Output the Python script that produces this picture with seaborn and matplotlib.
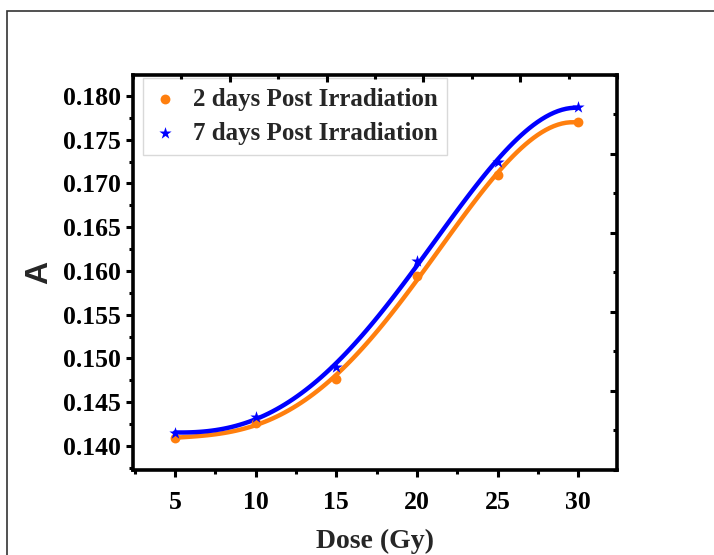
import numpy as np
import pandas as pd
import seaborn as sb
import matplotlib.pyplot as plt
from matplotlib.patches import Rectangle
from matplotlib.ticker import MultipleLocator

# data
dose = [5, 10, 15, 20, 25, 30]
a_2days = [0.1409, 0.1426, 0.1477, 0.1594, 0.1710, 0.1770]
a_7days = [0.1415, 0.1433, 0.1490, 0.1611, 0.1725, 0.1787]
labels = ['2 days Post Irradiation', '7 days Post Irradiation']
y_ticks = [0.140, 0.145, 0.150, 0.155, 0.160, 0.165, 0.170, 0.175, 0.180]

ORANGE = '#ff7f0e'
BLUE = '#0000ff'


def chart():
    df = pd.DataFrame({'dose': dose, 'd2': a_2days, 'd7': a_7days})

    sb.set_theme(style='ticks')
    plt.rcParams['font.family'] = ['Liberation Serif', 'DejaVu Serif']
    plt.rcParams['font.weight'] = 'bold'

    fig = plt.figure(figsize=(7.14, 5.55), dpi=100)
    ax = fig.add_axes([0.1863, 0.1532, 0.6779, 0.7117])

    # fitted curves
    sb.regplot(data=df, x='dose', y='d2', order=4, ci=None, scatter=False,
               line_kws={'color': ORANGE, 'lw': 3.2, 'zorder': 2}, ax=ax)
    sb.regplot(data=df, x='dose', y='d7', order=4, ci=None, scatter=False,
               line_kws={'color': BLUE, 'lw': 3.2, 'zorder': 3}, ax=ax)

    # points
    sb.scatterplot(data=df, x='dose', y='d2', marker='o', color=ORANGE, s=50,
                   edgecolor=ORANGE, linewidth=0, label=labels[0], zorder=4, ax=ax)
    sb.scatterplot(data=df, x='dose', y='d7', marker='*', color=BLUE, s=85,
                   edgecolor=BLUE, linewidth=0, label=labels[1], zorder=5, ax=ax)

    ax.set_xlim(2.4, 32.4)
    ax.set_ylim(0.13726, 0.18240)
    ax.set_xticks(dose)
    ax.set_yticks(y_ticks)
    ax.set_yticklabels([f'{v:.3f}' for v in y_ticks])
    ax.xaxis.set_minor_locator(MultipleLocator(2.5))
    ax.yaxis.set_minor_locator(MultipleLocator(0.0025))

    for s in ax.spines.values():
        s.set_linewidth(2.6)
        s.set_color('black')
    ax.tick_params(which='major', direction='out', length=5, width=2.2,
                   labelsize=18.5, color='black', labelcolor='black')
    ax.tick_params(which='minor', direction='out', length=3, width=2.2, color='black')
    ax.tick_params(axis='x', which='major', pad=10)
    ax.tick_params(axis='y', which='major', pad=4)

    ax.set_xlabel('Dose (Gy)', fontsize=20, fontweight='bold', labelpad=10.5)
    ax.set_ylabel('A', fontsize=23, fontweight='bold', labelpad=6,
                  family=['Liberation Sans', 'DejaVu Sans'])

    leg = ax.legend(loc='upper left', bbox_to_anchor=(0.02, 0.993),
                    borderaxespad=0, frameon=True, fancybox=False,
                    fontsize=18, handlelength=1.0, handletextpad=0.6,
                    labelspacing=0.45, borderpad=0.4, markerscale=1.0)
    leg.get_frame().set_edgecolor('#d0d0d0')
    leg.get_frame().set_linewidth(1.0)
    for t in leg.get_texts():
        t.set_fontweight('bold')

    # overlay for the top / right inward ticks
    ov = fig.add_axes(ax.get_position(), frameon=False)
    ov.set_xlim(0, 1)
    ov.set_ylim(0, 1)
    ov.xaxis.tick_top()
    ov.yaxis.tick_right()
    ov.set_xticks([0.2, 0.4, 0.6, 0.8])
    ov.set_yticks([0.2, 0.4, 0.6, 0.8])
    ov.xaxis.set_minor_locator(MultipleLocator(0.1))
    ov.yaxis.set_minor_locator(MultipleLocator(0.1))
    ov.tick_params(which='major', direction='in', length=5, width=2.2, color='black',
                   labeltop=False, labelright=False)
    ov.tick_params(which='minor', direction='in', length=3, width=2.2, color='black')
    ov.patch.set_visible(False)

    # page frame
    fig.add_artist(Rectangle((7 / 714, -0.1), 1.2, 1 - 11 / 555 + 0.1,
                             transform=fig.transFigure, fill=False,
                             edgecolor='#333333', linewidth=1.2))

    plt.savefig('out.png', dpi=100)


if __name__ == '__main__':
    chart()
